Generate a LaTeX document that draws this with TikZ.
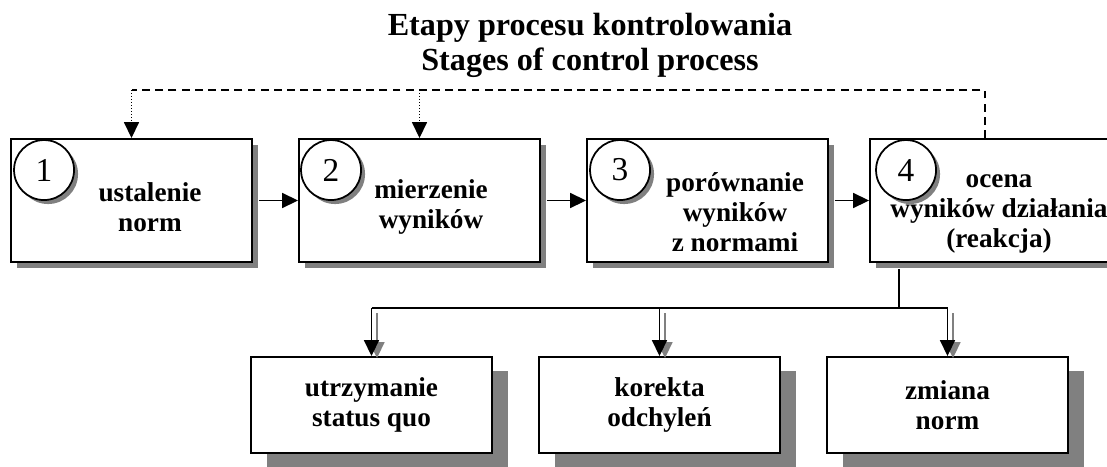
\documentclass[tikz,border=0pt]{standalone}
\usepackage{fontspec}
\setmainfont{Liberation Serif}
\usetikzlibrary{arrows.meta,shadows}

\begin{document}
\begin{tikzpicture}[StageBox/.style={draw, line width=1.1pt, fill=white, minimum width=4.82cm, minimum height=2.46cm,
  drop shadow={shadow xshift=0.12cm, shadow yshift=-0.12cm, fill=gray, opacity=1}},
ResultBox/.style={draw, line width=1.1pt, fill=white, minimum width=4.82cm, minimum height=1.92cm, align=center,
  font=\fontsize{15.5}{17}\selectfont\bfseries,
  drop shadow={shadow xshift=0.32cm, shadow yshift=-0.28cm, fill=gray, opacity=1}},
StageText/.style={align=center, font=\fontsize{15.5}{17}\selectfont\bfseries},
NumCircle/.style={circle, draw, line width=1pt, fill=white, minimum size=1.2cm, inner sep=0pt,
  font=\fontsize{19}{20}\selectfont,
  drop shadow={shadow xshift=0.08cm, shadow yshift=-0.08cm, fill=gray, opacity=1}},
Flow/.style={line width=0.8pt, -{Triangle[length=9pt, width=8.5pt]}},
Feedback/.style={line width=0.7pt, dash pattern=on 4.5pt off 3pt},
FeedbackTip/.style={line width=0.7pt, densely dotted, -{Triangle[length=9pt, width=8.5pt]}},
ShadowTip/.style={line width=0.8pt, gray, -{Triangle[length=9pt, width=8.5pt]}}]

\clip (0,0) rectangle (22.14,-9.32);

\node[StageText, font=\fontsize{18.3}{20}\selectfont\bfseries] (title) at (11.8,-0.9) {Etapy procesu kontrolowania\\Stages of control process};

% stages
\node[StageBox] (s1) at (2.63,-4.01) {};
\node[StageBox] (s2) at (8.39,-4.01) {};
\node[StageBox] (s3) at (14.15,-4.01) {};
\node[StageBox] (s4) at (19.81,-4.01) {};

\node[NumCircle] (n1) at ([shift={(0.68,-0.64)}]s1.north west) {1};
\node[NumCircle] (n2) at ([shift={(0.66,-0.64)}]s2.north west) {2};
\node[NumCircle] (n3) at ([shift={(0.68,-0.64)}]s3.north west) {3};
\node[NumCircle] (n4) at ([shift={(0.74,-0.64)}]s4.north west) {4};

\node[StageText] (t1) at (3.0,-4.14) {ustalenie\\norm};
\node[StageText] (t2) at (8.62,-4.14) {mierzenie\\wyników};
\node[StageText] (t3) at (14.7,-4.24) {porównanie\\wyników\\z normami};
\node[StageText] (t4) at (19.98,-4.28) {ocena\\wyników działania\\(reakcja)};

% results
\node[ResultBox] (r1) at (7.43,-8.1) {utrzymanie\\status quo};
\node[ResultBox] (r2) at (13.19,-8.1) {korekta\\odchyleń};
\node[ResultBox] (r3) at (18.95,-8.1) {zmiana\\norm};

\draw[Flow, shorten <=0.12cm] (s1.east) -- (s2.west);
\draw[Flow, shorten <=0.12cm] (s2.east) -- (s3.west);
\draw[Flow, shorten <=0.12cm] (s3.east) -- (s4.west);

% feedback
\coordinate (fb4) at (19.7,-1.8);
\coordinate (fb1) at (s1.north |- fb4);
\coordinate (fb2) at (s2.north |- fb4);
\draw[Feedback] (s4.north -| fb4) -- (fb4) -- (fb1);
\draw[FeedbackTip] (fb1) -- (s1.north);
\draw[FeedbackTip] (fb2) -- (s2.north);

% reaction
\coordinate (split) at (17.98,-6.16);
\draw[line width=0.8pt, shorten <=0.12cm] (s4.south -| split) -- (split);
\draw[line width=0.8pt] (r1.north |- split) -- (r3.north |- split);
\foreach \r in {r1,r2,r3} {
  \draw[ShadowTip] ([shift={(0.11,-0.1)}]\r.north |- split) -- ([shift={(0.11,-0.04)}]\r.north);
  \draw[Flow] (\r.north |- split) -- (\r.north);
}

\end{tikzpicture}
\end{document}
